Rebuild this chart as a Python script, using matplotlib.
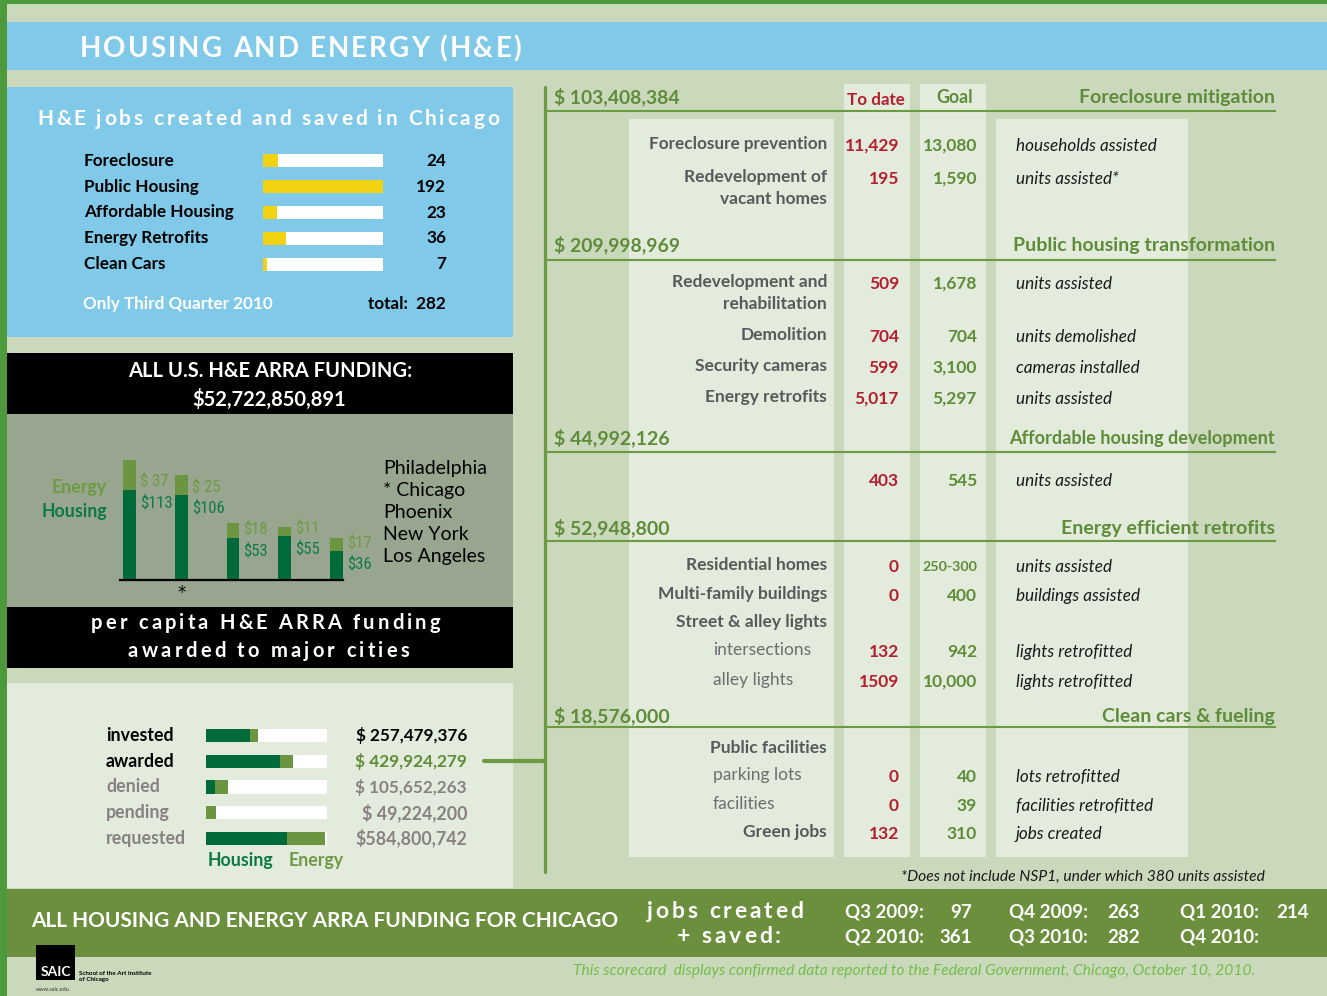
import matplotlib
matplotlib.use("Agg")
import matplotlib.pyplot as plt
from matplotlib.patches import Rectangle
from matplotlib.font_manager import FontProperties, fontManager
from matplotlib import transforms
import numpy as np

# ---------------- data ----------------
job_categories = ["Foreclosure", "Public Housing", "Affordable Housing", "Energy Retrofits", "Clean Cars"]
jobs_q3_2010 = [24, 192, 23, 36, 7]
jobs_total = 282

cities = ["Philadelphia", "* Chicago", "Phoenix", "New York", "Los Angeles"]
percap_housing = [113, 106, 53, 55, 36]
percap_energy = [37, 25, 18, 11, 17]
percap_housing_labels = ["$113", "$106", "$53", "$55", "$36"]
percap_energy_labels = ["$ 37", "$ 25", "$18", "$11", "$17"]

funding_status = ["invested", "awarded", "denied", "pending", "requested"]
funding_housing_m = [216, 364, 44, 0, 398]
funding_energy_m = [41, 66, 62, 49, 187]
funding_amounts = ["$ 257,479,376", "$ 429,924,279", "$ 105,652,263", "$ 49,224,200", "$584,800,742"]

section_amounts = ["$ 103,408,384", "$ 209,998,969", "$ 44,992,126", "$ 52,948,800", "$ 18,576,000"]
section_names = ["Foreclosure mitigation", "Public housing transformation",
                 "Affordable housing development", "Energy efficient retrofits",
                 "Clean cars & fueling"]

item_labels = ["Foreclosure prevention", "Redevelopment of\nvacant homes",
               "Redevelopment and\nrehabilitation", "Demolition", "Security cameras",
               "Energy retrofits", "", "Residential homes", "Multi-family buildings",
               "Street & alley lights", "intersections", "alley lights",
               "Public facilities", "parking lots", "facilities", "Green jobs"]
item_to_date = ["11,429", "195", "509", "704", "599", "5,017", "403", "0", "0", "",
                "132", "1509", "", "0", "0", "132"]
item_goal = ["13,080", "1,590", "1,678", "704", "3,100", "5,297", "545", "250-300", "400", "",
             "942", "10,000", "", "40", "39", "310"]
item_units = ["households assisted", "units assisted*", "units assisted", "units demolished",
              "cameras installed", "units assisted", "units assisted", "units assisted",
              "buildings assisted", "", "lights retrofitted", "lights retrofitted", "",
              "lots retrofitted", "facilities retrofitted", "jobs created"]
item_is_sub = [False, False, False, False, False, False, False, False, False, False,
               True, True, False, True, True, False]

quarters = ["Q3 2009:", "Q4 2009:", "Q1 2010:", "Q2 2010:", "Q3 2010:", "Q4 2010:"]
quarter_jobs = ["97", "263", "214", "361", "282", ""]

# ---------------- layout (pixels) ----------------
W, H = 1327, 996
SECTION_Y = [97, 245, 438, 528, 716]
RULE_Y = [111, 260, 452, 541, 727]
ITEM_Y = [144, 177, 282, 335, 366, 397, 479, 565, 594, 622, 650, 680, 748, 775, 804, 832]

C_SAGE = "#CAD8BC"
C_BORDER = "#4C9A3C"
C_BLUE = "#80C9E8"
C_YEL = "#F2D314"
C_GRAYG = "#99A68F"
C_LIGHT = "#E3EBDC"
C_BAND = "#6B8F3D"
C_HOUS = "#006B3A"
C_EN = "#6B9540"
C_HDR = "#5E8C38"
C_RED = "#B31F2E"
C_LINE = "#6B9A42"
C_LBL = "#58595B"
C_SUB = "#6D6E70"
C_FGRAY = "#878181"

names = {f.name for f in fontManager.ttflist}
MAIN = "Lato" if "Lato" in names else "DejaVu Sans"
COND = MAIN
for cand in ["Roboto Condensed", "Open Sans Condensed", "Liberation Sans Narrow", "Arial Narrow"]:
    if cand in names:
        COND = cand
        break

fig = plt.figure(figsize=(W / 100, H / 100), dpi=100)
fig.patch.set_facecolor(C_SAGE)
bg = fig.add_axes([0, 0, 1, 1])
bg.set_xlim(0, W)
bg.set_ylim(H, 0)
bg.axis("off")
renderer = fig.canvas.get_renderer()


def px_axes(x0, y0, x1, y1):
    ax = fig.add_axes([x0 / W, 1 - y1 / H, (x1 - x0) / W, (y1 - y0) / H])
    ax.patch.set_alpha(0)
    for s in ax.spines.values():
        s.set_visible(False)
    ax.set_xticks([])
    ax.set_yticks([])
    return ax


def rect(x0, y0, x1, y1, color, z=0):
    bg.add_patch(Rectangle((x0, y0), x1 - x0, y1 - y0, facecolor=color, lw=0, zorder=z))


def txt(x, y, s, size, color="black", weight="normal", ha="left", va="center",
        family=None, style="normal", maxw=None, transform=None, z=5):
    fam = family or MAIN
    t = bg.text(x, y, s, fontsize=size, color=color, fontweight=weight, ha=ha, va=va,
                family=fam, style=style, zorder=z,
                transform=transform if transform is not None else bg.transData)
    if maxw is not None and s:
        w = t.get_window_extent(renderer=renderer).width
        if w > maxw:
            t.set_fontsize(size * maxw / w)
    return t


def spaced(x0, x1, ybase, s, size, color, weight="bold"):
    fp = FontProperties(family=MAIN, weight=weight, size=size)

    def w(t):
        if not t:
            return 0.0
        return renderer.get_text_width_height_descent(t, fp, ismath=False)[0]

    total = w(s)
    gap = (x1 - x0 - total) / (len(s) - 1)
    for i, ch in enumerate(s):
        if ch == " ":
            continue
        xi = x0 + (w(s[:i + 1]) - w(ch)) + i * gap
        bg.text(xi, ybase, ch, fontproperties=fp, color=color, ha="left", va="baseline", zorder=6)


# ---------------- background blocks ----------------
rect(0, 0, W, 4, C_BORDER, 1)
rect(0, 0, 7, H, C_BORDER, 1)
rect(7, 22, W, 70, C_BLUE)
rect(7, 87, 513, 337, C_BLUE)
rect(7, 353, 513, 414, "black")
rect(7, 414, 513, 607, C_GRAYG)
rect(7, 607, 513, 668, "black")
rect(7, 683, 513, 888, C_LIGHT)
rect(7, 889, W, 957, C_BAND)

# ---------------- title ----------------
spaced(80, 521, 57, "HOUSING AND ENERGY (H&E)", 20, "white")

# ---------------- jobs panel ----------------
spaced(37, 499, 125, "H&E jobs created and saved in Chicago", 15, "white")
axj = px_axes(263, 148, 383, 277)
yj = np.arange(len(job_categories))
axj.barh(yj, [max(jobs_q3_2010)] * len(yj), height=0.5, color="white")
axj.barh(yj, jobs_q3_2010, height=0.5, color=C_YEL)
axj.set_xlim(0, max(jobs_q3_2010))
axj.set_ylim(len(yj) - 0.5, -0.5)
trj = transforms.blended_transform_factory(bg.transData, axj.transData)
for i, (c, v) in enumerate(zip(job_categories, jobs_q3_2010)):
    txt(84, i, c, 12.3, "black", "bold", transform=trj, maxw=155)
    txt(446, i, str(v), 12.3, "black", "bold", ha="right", transform=trj)
txt(83, 304, "Only Third Quarter 2010", 12.3, "white", "bold", maxw=191)
txt(446, 304, f"total:  {jobs_total}", 12.3, "black", "bold", ha="right")

# ---------------- all US funding band ----------------
txt(270, 371, "ALL U.S. H&E ARRA FUNDING:", 14.5, "white", "bold", ha="center", maxw=296)
txt(269, 399, "$52,722,850,891", 14.5, "white", "bold", ha="center", maxw=163)

# ---------------- per capita chart ----------------
axc = px_axes(120, 440, 343, 580)
xc = np.arange(len(cities))
axc.bar(xc, percap_housing, width=0.251, color=C_HOUS)
axc.bar(xc, percap_energy, bottom=percap_housing, width=0.251, color=C_EN)
axc.set_xlim(-0.184, 4.126)
axc.set_ylim(0, 175)
axc.spines["bottom"].set_visible(True)
axc.spines["bottom"].set_color("black")
axc.spines["bottom"].set_linewidth(1.6)
for i in range(len(cities)):
    axc.annotate(percap_energy_labels[i], xy=(xc[i] + 0.125, percap_housing[i]), xytext=(4, 1),
                 textcoords="offset pixels", ha="left", va="bottom", color="#6E9A44",
                 fontsize=12, family=COND, annotation_clip=False)
    axc.annotate(percap_housing_labels[i], xy=(xc[i] + 0.125, percap_housing[i]), xytext=(4, -5),
                 textcoords="offset pixels", ha="left", va="top", color="#0E7A45",
                 fontsize=12, family=COND, annotation_clip=False)
axc.annotate("*", xy=(1, 0), xytext=(0, -13), textcoords="offset pixels", ha="center",
             va="center", fontsize=12, color="black", annotation_clip=False)
txt(107, 487, "Energy", 12.8, "#6E9A46", "bold", ha="right")
txt(107, 511, "Housing", 12.8, "#0A7A42", "bold", ha="right")
for i, c in enumerate(cities):
    txt(383, 468 + 22 * i, c, 14, "black")

spaced(91, 440, 629, "per capita H&E ARRA funding", 14.5, "white")
spaced(128, 409, 657, "awarded to major cities", 14.5, "white")

# ---------------- funding status chart ----------------
axf = px_axes(206, 723, 327, 851)
yf = np.arange(len(funding_status))
axf.set_xlim(0, 595)
axf.set_ylim(len(yf) - 0.5, -0.5)
axf.barh(yf, [axf.get_xlim()[1]] * len(yf), height=0.51, color="white")
axf.barh(yf, funding_housing_m, height=0.51, color=C_HOUS)
axf.barh(yf, funding_energy_m, left=funding_housing_m, height=0.51, color=C_EN)
trf = transforms.blended_transform_factory(bg.transData, axf.transData)
lab_cols = ["black", "black", C_FGRAY, C_FGRAY, C_FGRAY]
amt_cols = ["black", C_HDR, C_FGRAY, C_FGRAY, C_FGRAY]
for i, s in enumerate(funding_status):
    txt(106, i, s, 12.8, lab_cols[i], "bold", transform=trf, maxw=82)
    txt(467, i, funding_amounts[i], 12.8, amt_cols[i], "bold", ha="right", transform=trf, maxw=112)
txt(208, 860, "Housing", 12.8, "#0A7A42", "bold")
txt(289, 860, "Energy", 12.8, "#6E9A46", "bold")

# ---------------- right table ----------------
rect(629, 119, 834, 857, C_LIGHT)
rect(844, 84, 910, 857, C_LIGHT)
rect(920, 84, 986, 857, C_LIGHT)
rect(996, 119, 1188, 857, C_LIGHT)
bg.plot([545, 545], [87, 872], color=C_LINE, lw=2.3, solid_capstyle="round", zorder=3)
bg.plot([484, 545], [761, 761], color=C_LINE, lw=3, solid_capstyle="round", zorder=3)
for ry in RULE_Y:
    bg.plot([545, 1275], [ry, ry], color=C_LINE, lw=1.5, zorder=3)

txt(876, 100, "To date", 12.8, C_RED, "bold", ha="center", maxw=58)
txt(955, 97, "Goal", 12.8, C_HDR, "bold", ha="center")
for a, n, y in zip(section_amounts, section_names, SECTION_Y):
    txt(554, y, a, 14, C_HDR, "bold", maxw=126)
    txt(1275, y, n, 14, C_HDR, "bold", ha="right", maxw=266)

for lab, td, gl, un, sub, y in zip(item_labels, item_to_date, item_goal, item_units,
                                   item_is_sub, ITEM_Y):
    for k, ln in enumerate(lab.split("\n")):
        if sub:
            txt(713, y + 22 * k, ln, 12.5, C_SUB, "normal")
        else:
            txt(827, y + 22 * k, ln, 12.5, C_LBL, "bold", ha="right", maxw=178)
    if td:
        txt(899, y + 2, td, 12.5, C_RED, "bold", ha="right")
    if gl:
        txt(977, y + 2, gl, 12.5, C_HDR, "bold", ha="right", maxw=55)
    if un:
        txt(1016, y + 2, un, 12.3, "#1A1A1A", "normal", style="italic")

txt(1265, 877, "*Does not include NSP1, under which 380 units assisted", 11.5, "#1A1A1A",
    "normal", ha="right", style="italic", maxw=365)

# ---------------- bottom band ----------------
txt(31, 921, "ALL HOUSING AND ENERGY ARRA FUNDING FOR CHICAGO", 16, "white", "bold", maxw=588)
spaced(647, 803, 918, "jobs created", 16.5, "white")
spaced(677, 781, 943, "+ saved:", 16.5, "white")
QX = [845, 1009, 1180]
QR = [972, 1140, 1309]
for i, (q, j) in enumerate(zip(quarters, quarter_jobs)):
    col = i % 3
    row = i // 3
    y = 912 + 25 * row
    txt(QX[col], y, q, 13.5, "white", "bold", maxw=84)
    if j:
        txt(QR[col], y, j, 13.5, "white", "bold", ha="right")

txt(573, 971, "This scorecard  displays confirmed data reported to the Federal Government, Chicago, October 10, 2010.",
    11.5, "#74BE4A", "normal", style="italic", maxw=684)

# SAIC logo
rect(36, 945, 75, 980, "black", 2)
txt(55.5, 972, "SAIC", 10, "white", "bold", ha="center", maxw=37)
txt(79, 973, "School of the Art Institute", 4.5, "black", "bold")
txt(79, 979, "of Chicago", 4.5, "black", "bold")
txt(36, 989, "www.saic.edu", 4, "#333333", "normal")

fig.savefig("out.png", dpi=100, facecolor=C_SAGE)
